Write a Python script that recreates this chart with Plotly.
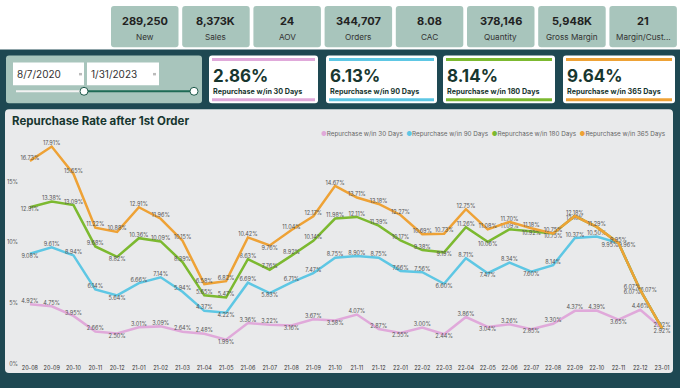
import plotly.graph_objects as go

# ---------------- data ----------------
months = ["20-08","20-09","20-10","20-11","20-12","21-01","21-02","21-03","21-04","21-05",
          "21-06","21-07","21-08","21-09","21-10","21-11","21-12","22-01","22-02","22-03",
          "22-04","22-05","22-06","22-07","22-08","22-09","22-10","22-11","22-12","23-01"]

rep_30 = [4.92,4.75,3.95,2.66,2.50,3.01,3.09,2.64,2.48,1.99,3.36,3.22,3.16,3.67,3.58,
          4.07,2.87,2.55,3.00,2.44,3.86,3.04,3.26,2.85,3.30,4.37,4.39,3.65,4.46,2.92]
rep_90 = [9.08,9.61,8.94,6.14,5.64,6.66,7.14,5.94,4.37,4.22,6.69,5.83,6.71,7.47,8.75,
          8.90,8.75,7.66,7.56,6.60,8.71,7.47,8.34,7.60,8.14,10.37,10.50,9.95,6.07,2.92]
rep_180 = [12.91,13.38,13.09,9.68,8.82,10.36,10.09,8.39,5.65,5.47,8.63,7.76,8.92,10.14,11.98,
           12.11,11.39,10.17,9.38,9.19,11.26,10.06,11.09,10.92,10.75,12.18,11.29,9.96,6.07,2.92]
rep_365 = [16.73,17.91,15.65,11.22,10.88,12.91,11.96,10.15,6.58,6.82,10.42,9.76,11.04,12.17,14.67,
           13.71,13.18,12.27,10.69,10.73,12.75,11.08,11.70,11.18,10.75,12.18,11.29,9.95,6.07,2.92]

series_names = ["Repurchase w/in 30 Days", "Repurchase w/in 90 Days",
                "Repurchase w/in 180 Days", "Repurchase w/in 365 Days"]

kpi_values = ["289,250","8,373K","24","344,707","8.08","378,146","5,948K","21"]
kpi_labels = ["New","Sales","AOV","Orders","CAC","Quantity","Gross Margin","Margin/Cust..."]

card_values = ["2.86%","6.13%","8.14%","9.64%"]

date_start = "8/7/2020"
date_end = "1/31/2023"

y_ticks = [0, 5, 10, 15]
y_tick_text = ["0%", "5%", "10%", "15%"]

# ---------------- styling ----------------
W, H = 680, 388
DARK = "#1e4852"
SAGE = "#a8c5bc"
PANEL = "#e9eaeb"
TXT = "#17362f"
COLORS = ["#e0a9da", "#5ec7e4", "#7cb930", "#eea236"]
FONT = "Inter"

def px(x):
    return x / W

def py(y):
    return 1 - y / H

def rrect(x0, y0, x1, y1, r, fill):
    pts = [
        ("M", [(x0 + r, y0)]), ("L", [(x1 - r, y0)]), ("Q", [(x1, y0), (x1, y0 + r)]),
        ("L", [(x1, y1 - r)]), ("Q", [(x1, y1), (x1 - r, y1)]), ("L", [(x0 + r, y1)]),
        ("Q", [(x0, y1), (x0, y1 - r)]), ("L", [(x0, y0 + r)]), ("Q", [(x0, y0), (x0 + r, y0)]),
    ]
    path = ""
    for cmd, ps in pts:
        path += cmd + " " + " ".join(f"{px(a):.5f},{py(b):.5f}" for a, b in ps) + " "
    path += "Z"
    return dict(type="path", path=path, xref="paper", yref="paper", fillcolor=fill,
                line=dict(width=0), layer="below")

shapes = []
annotations = []

# white top strip
shapes.append(dict(type="rect", xref="paper", yref="paper", x0=0, x1=1, y0=py(50), y1=1,
                   fillcolor="white", line=dict(width=0), layer="below"))

# top KPI cards
for i, (v, l) in enumerate(zip(kpi_values, kpi_labels)):
    x0 = 111 + i * 71.2
    x1 = x0 + 67.5
    shapes.append(rrect(x0, 6, x1, 47.5, 3, SAGE))
    cx = (x0 + x1) / 2
    annotations.append(dict(x=px(cx), y=py(21), xref="paper", yref="paper", text=f"<b>{v}</b>",
                            showarrow=False, font=dict(family=FONT, size=11, color="#222"),
                            xanchor="center", yanchor="middle"))
    annotations.append(dict(x=px(cx), y=py(37.5), xref="paper", yref="paper", text=l,
                            showarrow=False, font=dict(family=FONT, size=8.2, color="#333"),
                            xanchor="center", yanchor="middle"))

# date slicer panel
shapes.append(rrect(6, 56, 202, 104, 3, SAGE))
shapes.append(dict(type="rect", xref="paper", yref="paper", x0=px(13), x1=px(84), y0=py(86),
                   y1=py(63), fillcolor="white", line=dict(width=0)))
shapes.append(dict(type="rect", xref="paper", yref="paper", x0=px(87), x1=px(159), y0=py(86),
                   y1=py(63), fillcolor="white", line=dict(width=0)))
for ix in (79, 153):
    shapes.append(dict(type="rect", xref="paper", yref="paper", x0=px(ix), x1=px(ix + 3),
                       y0=py(76), y1=py(73.5), fillcolor="#bbb", line=dict(width=0)))
annotations.append(dict(x=px(15), y=py(74.5), xref="paper", yref="paper", text=date_start,
                        showarrow=False, font=dict(family=FONT, size=10, color="#333"),
                        xanchor="left", yanchor="middle"))
annotations.append(dict(x=px(89), y=py(74.5), xref="paper", yref="paper", text=date_end,
                        showarrow=False, font=dict(family=FONT, size=10, color="#333"),
                        xanchor="left", yanchor="middle"))
shapes.append(dict(type="line", xref="paper", yref="paper", x0=px(16), x1=px(84), y0=py(92),
                   y1=py(92), line=dict(color="#f2f2f2", width=2)))
shapes.append(dict(type="line", xref="paper", yref="paper", x0=px(84), x1=px(194), y0=py(92),
                   y1=py(92), line=dict(color="#1f6b56", width=2)))
for hx in (84, 194):
    shapes.append(dict(type="circle", xref="paper", yref="paper", x0=px(hx - 4), x1=px(hx + 4),
                       y0=py(96), y1=py(88), fillcolor="white", line=dict(color="#1f5a4a", width=1)))

# repurchase KPI cards
card_x = [(209, 318), (326, 437), (443, 555), (563, 675)]
for (x0, x1), val, name, col in zip(card_x, card_values, series_names, COLORS):
    shapes.append(rrect(x0, 56, x1, 104, 3, "white"))
    shapes.append(dict(type="rect", xref="paper", yref="paper", x0=px(x0 + 3), x1=px(x1 - 3),
                       y0=py(61.5), y1=py(58.5), fillcolor=col, line=dict(width=0)))
    shapes.append(dict(type="rect", xref="paper", yref="paper", x0=px(x0 + 3), x1=px(x1 - 3),
                       y0=py(102), y1=py(99), fillcolor=col, line=dict(width=0)))
    annotations.append(dict(x=px(x0 + 2), y=py(76.5), xref="paper", yref="paper",
                            text=f"<b>{val}</b>", showarrow=False,
                            font=dict(family=FONT, size=17, color=TXT),
                            xanchor="left", yanchor="middle"))
    annotations.append(dict(x=px(x0 + 2), y=py(92.5), xref="paper", yref="paper",
                            text=f"<b>{name}</b>", showarrow=False,
                            font=dict(family=FONT, size=7.2, color=TXT),
                            xanchor="left", yanchor="middle"))

# chart panel
shapes.append(rrect(5, 110, 673, 376, 4, PANEL))
annotations.append(dict(x=px(10), y=py(122), xref="paper", yref="paper",
                        text="<b>Repurchase Rate after 1st Order</b>", showarrow=False,
                        font=dict(family=FONT, size=11.5, color=TXT),
                        xanchor="left", yanchor="middle"))
legend_txt = "  ".join(
    f"<span style='color:{c}'>●</span><span style='color:#666'>{n}</span>"
    for n, c in zip(series_names, COLORS))
annotations.append(dict(x=px(668), y=py(135), xref="paper", yref="paper", text=legend_txt,
                        showarrow=False, font=dict(family=FONT, size=6.3, color="#666"),
                        xanchor="right", yanchor="middle"))

# ---------------- label positions ----------------
T, B, R, L = "top center", "bottom center", "middle right", "middle left"
BL, TL, BR = "bottom left", "top left", "bottom right"
pos30 = [T]*30
for i in (4, 9, 12, 14, 17, 19, 21, 23, 27):
    pos30[i] = B
pos90 = [T]*30
for i in (0, 4, 9, 11, 19, 21, 23):
    pos90[i] = B
pos90[27] = BL
pos90[28] = BL
pos180 = [T]*30
for i in (0, 4, 19, 21, 23, 24, 25):
    pos180[i] = B
pos180[27] = BR
pos180[28] = R
pos365 = [T]*30
pos365[11] = B
pos365[28] = TL
pos365[29] = B

def labels(vals, hide=()):
    return ["" if i in hide else f"{v:.2f}%" for i, v in enumerate(vals)]

fig = go.Figure()
traces = [
    (rep_30, pos30, labels(rep_30)),
    (rep_90, pos90, labels(rep_90, hide=(29,))),
    (rep_180, pos180, labels(rep_180, hide=(26, 29))),
    (rep_365, pos365, labels(rep_365)),
]
for (vals, pos, txt), name, col in zip(traces, series_names, COLORS):
    fig.add_trace(go.Scatter(
        x=months, y=vals, name=name, mode="lines+text", text=txt, textposition=pos,
        textfont=dict(family=FONT, size=5.5, color="#555"),
        line=dict(color=col, width=2.5), cliponaxis=False, showlegend=False))

y_top_px, y0_px = 140, 366.7
per = (366.7 - 183.3) / 15
fig.update_layout(
    width=W, height=H, margin=dict(l=0, r=0, t=0, b=0),
    paper_bgcolor=DARK, plot_bgcolor="rgba(0,0,0,0)",
    shapes=shapes, annotations=annotations, showlegend=False,
    xaxis=dict(domain=[px(19), px(673)], range=[-0.5, 29.5], type="category",
               showgrid=False, zeroline=False, showline=False, ticks="",
               tickfont=dict(family=FONT, size=5.5, color="#333"), ticklen=0),
    yaxis=dict(domain=[py(y0_px), py(y_top_px)], range=[0, (y0_px - y_top_px) / per],
               tickvals=y_ticks, ticktext=y_tick_text, showgrid=False, zeroline=False,
               showline=False, tickfont=dict(family=FONT, size=5.5, color="#555")),
)

fig.write_html("out.html", config={"displayModeBar": False},
               post_script="document.body.style.margin='0';document.body.style.overflow='hidden';")
